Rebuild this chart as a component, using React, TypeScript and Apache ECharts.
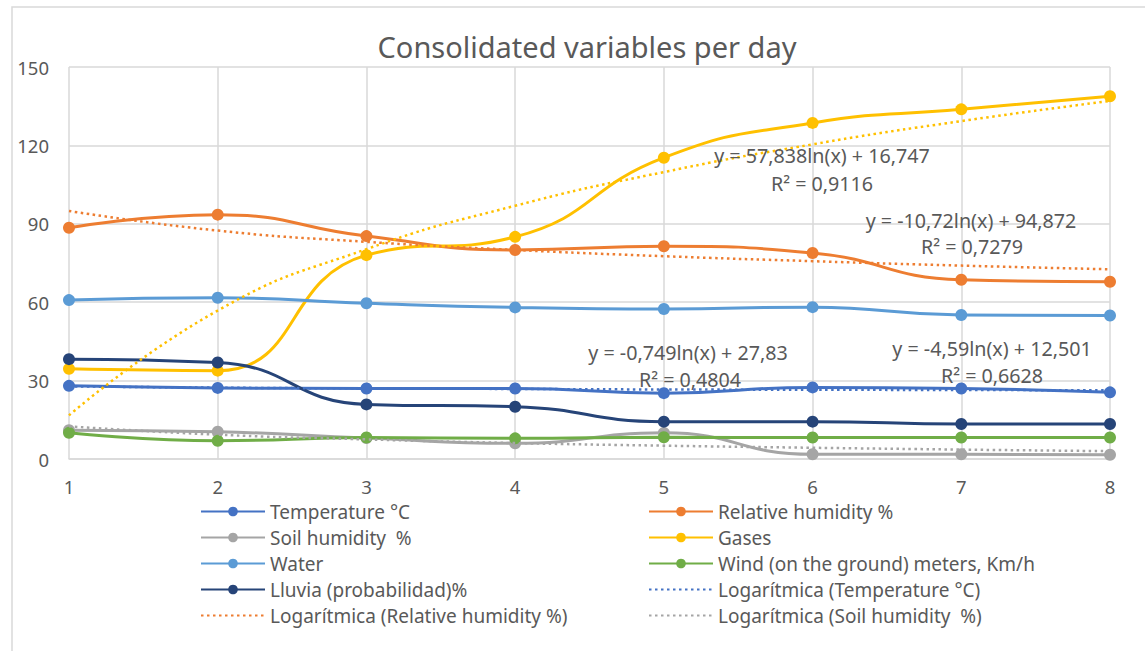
import React, { useEffect, useRef } from "react";
import * as echarts from "echarts";

const days = ["1", "2", "3", "4", "5", "6", "7", "8"];
const yTicks = [0, 30, 60, 90, 120, 150];

const temperature = [28, 27.2, 27, 27, 25.2, 27.4, 27, 25.5];
const relHumidity = [88.5, 93.5, 85.3, 80, 81.4, 78.8, 68.6, 67.8];
const soilHumidity = [11, 10.4, 8, 6, 10, 1.8, 1.8, 1.6];
const gases = [34.5, 33.8, 78, 85, 115.3, 128.6, 133.8, 138.8];
const water = [60.8, 61.7, 59.6, 58, 57.4, 58.1, 55.1, 54.9];
const wind = [10, 7, 8.2, 7.9, 8.3, 8.2, 8.2, 8.2];
const rain = [38.2, 36.9, 20.9, 20, 14.3, 14.3, 13.4, 13.4];

const trendTemp = [27.8, 27.3, 27.0, 26.8, 26.6, 26.5, 26.4, 26.3];
const trendRH = [94.9, 87.4, 83.1, 80.0, 77.6, 75.7, 74.0, 72.6];
const trendSoil = [12.5, 9.3, 7.5, 6.1, 5.1, 4.3, 3.6, 3.0];
const trendGases = [16.7, 56.8, 80.3, 96.9, 109.8, 120.4, 129.3, 137.0];

const seriesNames = [
  "Temperature °C",
  "Relative humidity %",
  "Soil humidity  %",
  "Gases",
  "Water",
  "Wind (on the ground) meters, Km/h",
  "Lluvia (probabilidad)%",
];
const trendNames = [
  "Logarítmica (Temperature °C)",
  "Logarítmica (Relative humidity %)",
  "Logarítmica (Soil humidity  %)",
  "Logarítmica (Gases)",
];
const legendOrder = [
  "Temperature °C",
  "Relative humidity %",
  "Soil humidity  %",
  "Gases",
  "Water",
  "Wind (on the ground) meters, Km/h",
  "Lluvia (probabilidad)%",
  "Logarítmica (Temperature °C)",
  "Logarítmica (Relative humidity %)",
  "Logarítmica (Soil humidity  %)",
];
const equations = [
  { eq: "y = 57,838ln(x) + 16,747", r2: "R² = 0,9116", x: 822, y: 155, rx: 822, ry: 183 },
  { eq: "y = -10,72ln(x) + 94,872", r2: "R² = 0,7279", x: 971, y: 220, rx: 972, ry: 246 },
  { eq: "y = -0,749ln(x) + 27,83", r2: "R² = 0,4804", x: 688, y: 352, rx: 690, ry: 379 },
  { eq: "y = -4,59ln(x) + 12,501", r2: "R² = 0,6628", x: 992, y: 348, rx: 992, ry: 375 },
];

const FONT = "'Noto Sans', sans-serif";
const TEXT = "#595959";

export default function App() {
  const ref = useRef<HTMLDivElement>(null);
  useEffect(() => {
    const chart = echarts.init(ref.current!, null, { renderer: "svg" });
    const values = [temperature, relHumidity, soilHumidity, gases, water, wind, rain];
    const colors = ["#4472C4", "#ED7D31", "#A5A5A5", "#FFC000", "#5B9BD5", "#70AD47", "#264478"];
    const trends = [trendTemp, trendRH, trendSoil, trendGases];
    const trendColors = ["#4472C4", "#ED7D31", "#A5A5A5", "#FFC000"];

    const series: any[] = values.map((v, i) => ({
      name: seriesNames[i],
      type: "line",
      data: v,
      smooth: 0.5,
      symbol: "circle",
      symbolSize: 12,
      color: colors[i],
      lineStyle: { width: 3, color: colors[i] },
      itemStyle: { color: colors[i] },
      z: 2 + i,
    }));
    trends.forEach((t, i) => {
      series.push({
        name: trendNames[i],
        type: "line",
        data: t,
        smooth: 0.5,
        symbol: "none",
        color: trendColors[i],
        lineStyle: { width: 2.5, color: trendColors[i], type: [2.5, 3.5] },
        z: 20,
      });
    });

    const legends = legendOrder.map((name, i) => {
      const isTrend = name.indexOf("Logarítmica") === 0;
      const lg: any = {
        data: [name],
        left: i % 2 === 0 ? 200 : 648,
        top: 512 + Math.floor(i / 2) * 26 - 10,
        itemWidth: 64,
        itemHeight: 12,
        padding: 0,
        selectedMode: false,
        textStyle: { fontSize: 19, color: TEXT, fontFamily: FONT },
      };
      if (isTrend) {
        lg.itemStyle = { color: "rgba(0,0,0,0)", borderWidth: 0, opacity: 0 };
      }
      return lg;
    });

    const graphics: any[] = [
      {
        type: "rect",
        shape: { x: 12, y: 7, width: 1150, height: 660 },
        style: { fill: "none", stroke: "#D9D9D9", lineWidth: 1.5 },
        silent: true,
      },
    ];
    equations.forEach((e) => {
      graphics.push({
        type: "text",
        x: e.x,
        y: e.y,
        style: {
          text: e.eq,
          fill: TEXT,
          fontSize: 19.7,
          fontFamily: FONT,
          textAlign: "center",
          textVerticalAlign: "middle",
        },
        z: 100,
      });
      graphics.push({
        type: "text",
        x: e.rx,
        y: e.ry,
        style: {
          text: e.r2,
          fill: TEXT,
          fontSize: 19.7,
          fontFamily: FONT,
          textAlign: "center",
          textVerticalAlign: "middle",
        },
        z: 100,
      });
    });

    chart.setOption({
      animation: false,
      backgroundColor: "#ffffff",
      title: {
        text: "Consolidated variables per day",
        left: 582,
        top: 27,
        textAlign: "center",
        textStyle: { fontSize: 29, fontWeight: "normal", color: TEXT, fontFamily: FONT },
      },
      legend: legends,
      grid: { left: 69, right: 35, top: 67, bottom: 192, containLabel: false },
      xAxis: {
        type: "category",
        data: days,
        boundaryGap: false,
        axisTick: { show: false },
        axisLine: { show: true, lineStyle: { color: "#D9D9D9", width: 1.5 } },
        splitLine: { show: true, lineStyle: { color: "#D9D9D9", width: 1.5 } },
        axisLabel: { color: TEXT, fontSize: 18.5, fontFamily: FONT, margin: 18 },
      },
      yAxis: {
        type: "value",
        min: yTicks[0],
        max: yTicks[yTicks.length - 1],
        interval: 30,
        axisLine: { show: false },
        axisTick: { show: false },
        splitLine: { show: true, lineStyle: { color: "#D9D9D9", width: 1.5 } },
        axisLabel: { color: TEXT, fontSize: 18.5, fontFamily: FONT, margin: 20 },
      },
      graphic: graphics,
      series,
    });
    return () => chart.dispose();
  }, []);
  return (
    <div
      ref={ref}
      style={{ position: "fixed", left: 0, top: 0, width: 1145, height: 651, background: "#fff" }}
    />
  );
}
